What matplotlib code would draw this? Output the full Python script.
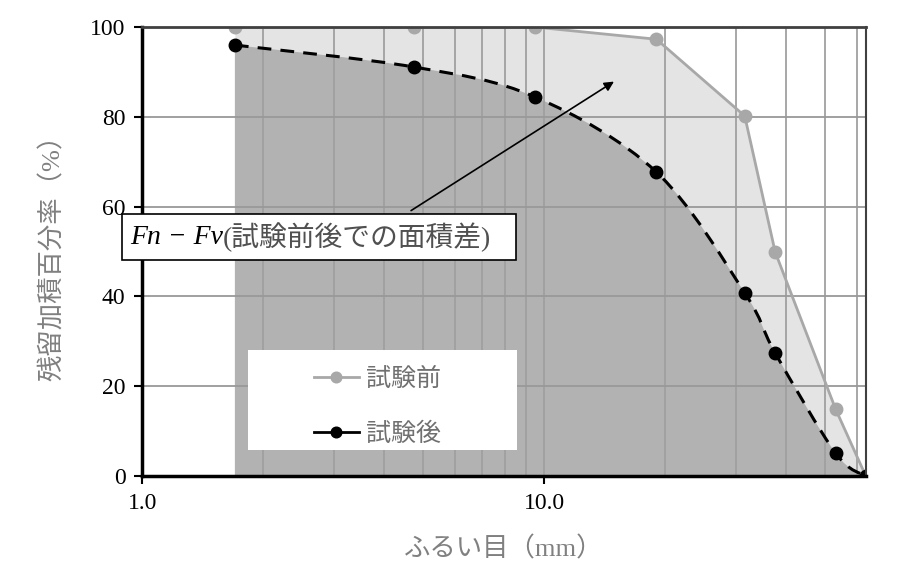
import numpy as np
import matplotlib
matplotlib.use('Agg')
import matplotlib.pyplot as plt
from matplotlib.path import Path
from matplotlib.patches import PathPatch
from matplotlib.ticker import FixedLocator, NullFormatter

plt.rcParams['font.family'] = ['Liberation Serif', 'Noto Sans CJK JP', 'DejaVu Sans']

# sieve openings (mm) and cumulative retained percentage
sieve = [1.7, 4.75, 9.5, 19, 31.5, 37.5, 53, 63]
before = [100, 100, 100, 97.3, 80.2, 49.9, 14.9, 0]
after = [96.0, 91.1, 84.4, 67.7, 40.8, 27.4, 5.1, 0]
labels = ['試験前', '試験後']

fig = plt.figure(figsize=(9, 5.77), dpi=100)
ax = fig.add_axes([0.158, 0.175, 0.804, 0.778])
ax.set_xscale('log')
ax.set_xlim(1, 63)
ax.set_ylim(0, 100)

# smoothed path (Excel-like bezier) through the after-test points, in log-x space
lx = np.log10(sieve)
pts = np.column_stack([lx, after])
verts = [pts[0]]
codes = [Path.MOVETO]
n = len(pts)
for i in range(n - 1):
    p0 = pts[i - 1] if i > 0 else pts[i]
    p1 = pts[i]
    p2 = pts[i + 1]
    p3 = pts[i + 2] if i + 2 < n else pts[i + 1]
    c1 = p1 + (p2 - p0) / 6.0
    c2 = p2 - (p3 - p1) / 6.0
    verts += [c1, c2, p2]
    codes += [Path.CURVE4] * 3
verts = np.array(verts)
verts[:, 0] = 10 ** verts[:, 0]

# fills
ax.fill_between(sieve, 0, before, color='#e4e4e4', lw=0, zorder=1)
fill_verts = np.vstack([verts, [[sieve[-1], 0], [sieve[0], 0], verts[0]]])
fill_codes = codes + [Path.LINETO, Path.LINETO, Path.CLOSEPOLY]
ax.add_patch(PathPatch(Path(fill_verts, fill_codes), facecolor='#b2b2b2', lw=0, zorder=1.5))

# grid
ax.xaxis.set_minor_locator(FixedLocator([2, 3, 4, 5, 6, 7, 8, 9, 20, 30, 40, 50, 60]))
ax.xaxis.set_minor_formatter(NullFormatter())
ax.grid(True, which='both', axis='x', color='#a0a0a0', lw=1.3, zorder=2)
ax.grid(True, which='major', axis='y', color='#999999', lw=1.3, zorder=2)
ax.set_axisbelow(False)

# lines
ax.plot(sieve, before, color='#a8a8a8', lw=2, marker='o', ms=9, zorder=3, label=labels[0])
ax.add_patch(PathPatch(Path(verts, codes), facecolor='none', edgecolor='black', lw=2.2,
                       linestyle=(0, (4.5, 3)), zorder=3.5))
ax.plot(sieve, after, color='black', lw=0, marker='o', ms=9, zorder=4)
ax.plot([], [], color='black', lw=2, marker='o', ms=9, label=labels[1])

# ticks and spines
ax.set_xticks([1, 10])
ax.set_xticklabels(['1.0', '10.0'])
ax.set_yticks([0, 20, 40, 60, 80, 100])
ax.tick_params(axis='both', which='major', direction='out', length=6, width=1.5,
               labelsize=17, colors='black', pad=6)
ax.tick_params(axis='x', which='minor', length=0)
for s in ['left', 'bottom']:
    ax.spines[s].set_linewidth(2.5)
    ax.spines[s].set_color('black')
ax.spines['top'].set_linewidth(2)
ax.spines['top'].set_color('#404040')
ax.spines['right'].set_linewidth(1.5)
ax.spines['right'].set_color('#404040')
for s in ax.spines.values():
    s.set_zorder(6)

ax.set_xlabel('ふるい目（mm）', fontsize=19, color='#808080', labelpad=16)
ax.set_ylabel('残留加積百分率（%）', fontsize=19, color='#808080', labelpad=18)

# legend: white panel with the entries centred on it
panel = plt.Rectangle((0.146, 0.058), 0.372, 0.223, transform=ax.transAxes,
                      facecolor='white', edgecolor='none', zorder=6.5)
ax.add_patch(panel)
leg = ax.legend(loc='center', bbox_to_anchor=(0.325, 0.154), frameon=False,
                fontsize=18, handlelength=1.8, handletextpad=0.3, labelspacing=1.25,
                markerscale=0.85, borderaxespad=0)
leg.set_zorder(7)
for t in leg.get_texts():
    t.set_color('#707070')

# annotation box and arrow
ax.annotate('', xy=(15.1, 88.2), xytext=(4.6, 58.8),
            arrowprops=dict(arrowstyle='-|>', color='black', lw=1.2, mutation_scale=14),
            zorder=8)
t1 = ax.text(-0.017, 53.2, 'Fn − Fv', transform=ax.get_yaxis_transform(),
             fontsize=20, style='italic', color='black', va='center', ha='left', zorder=9,
             clip_on=False)
ax.annotate('(試験前後での面積差)', xy=(1, 0.5), xycoords=t1, fontsize=20,
            color='#505050', va='center', ha='left', zorder=9)
# frame behind both texts
box = plt.Rectangle((-0.028, 48.2), 0.545, 10.2, transform=ax.get_yaxis_transform(),
                    facecolor='white', edgecolor='black', lw=1.2, zorder=8.5, clip_on=False)
ax.add_patch(box)

fig.savefig('out.png', dpi=100)
